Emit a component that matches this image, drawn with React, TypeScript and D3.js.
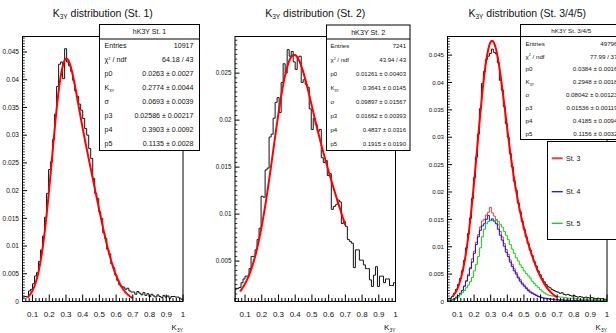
import React from "react";
import * as d3 from "d3";

const W = 616;
const H = 333;
const FONT = "'Liberation Sans', Arial, Helvetica, sans-serif";

// histogram binning: 80 bins from 0.04 to 1.00
const BIN_LOW = 0.04;
const BIN_WIDTH = 0.012;
const X_DOMAIN = [0.04, 1.0];
const FIT_RANGE = [0.07, 0.7];

const xTickValues = [0.1, 0.2, 0.3, 0.4, 0.5, 0.6, 0.7, 0.8, 0.9, 1];
const xTickLabels = ["0.1", "0.2", "0.3", "0.4", "0.5", "0.6", "0.7", "0.8", "0.9", "1"];

const st1Values = [
  0.0008, 0.0009, 0.0008, 0.0019, 0.0022, 0.0032, 0.0046, 0.0052, 0.0072, 0.0093,
  0.0118, 0.0152, 0.0195, 0.0238, 0.0252, 0.0292, 0.0338, 0.0388, 0.0428, 0.0432,
  0.0402, 0.0456, 0.0432, 0.0425, 0.0415, 0.0399, 0.0380, 0.0370, 0.0356, 0.0345,
  0.0330, 0.0312, 0.0300, 0.0276, 0.0258, 0.0222, 0.0195, 0.0186, 0.0162, 0.0150,
  0.0124, 0.0114, 0.0094, 0.0086, 0.0068, 0.0061, 0.0048, 0.0038, 0.0030, 0.0027,
  0.0026, 0.0022, 0.0024, 0.0019, 0.0017, 0.0017, 0.0013, 0.0018, 0.0015, 0.0012,
  0.0016, 0.0011, 0.0014, 0.0009, 0.0013, 0.0010, 0.0008, 0.0012, 0.0009, 0.0007,
  0.0011, 0.0008, 0.0010, 0.0006, 0.0009, 0.0009, 0.0008, 0.0008, 0.0006, 0.0004,
];

const st2Values = [
  0.0021, 0.0021, 0.0022, 0.0027, 0.0031, 0.0034, 0.0034, 0.0042, 0.0055, 0.0055,
  0.0062, 0.0073, 0.0085, 0.0119, 0.0118, 0.0147, 0.0149, 0.0182, 0.0185, 0.0202,
  0.0219, 0.0224, 0.0208, 0.0240, 0.0260, 0.0250, 0.0275, 0.0268, 0.0273, 0.0262,
  0.0254, 0.0267, 0.0268, 0.0240, 0.0243, 0.0238, 0.0235, 0.0212, 0.0190, 0.0202,
  0.0195, 0.0188, 0.0190, 0.0160, 0.0155, 0.0157, 0.0141, 0.0143, 0.0105, 0.0108,
  0.0110, 0.0115, 0.0113, 0.0090, 0.0092, 0.0087, 0.0073, 0.0071, 0.0069, 0.0043,
  0.0062, 0.0062, 0.0051, 0.0051, 0.0046, 0.0042, 0.0042, 0.0030, 0.0023, 0.0035,
  0.0044, 0.0023, 0.0034, 0.0034, 0.0027, 0.0031, 0.0031, 0.0024, 0.0024, 0.0027,
];

const st345Values = [
  0.0005, 0.0006, 0.0009, 0.0015, 0.0022, 0.0031, 0.0042, 0.0056, 0.0075, 0.0098,
  0.0124, 0.0152, 0.0188, 0.0226, 0.0264, 0.0306, 0.0352, 0.0398, 0.0420, 0.0442,
  0.0448, 0.0453, 0.0461, 0.0455, 0.0452, 0.0436, 0.0404, 0.0386, 0.0356, 0.0325,
  0.0300, 0.0270, 0.0246, 0.0220, 0.0203, 0.0180, 0.0164, 0.0146, 0.0132, 0.0118,
  0.0106, 0.0094, 0.0084, 0.0073, 0.0065, 0.0056, 0.0049, 0.0042, 0.0036, 0.0031,
  0.0027, 0.0025, 0.0022, 0.0020, 0.0018, 0.0017, 0.0015, 0.0016, 0.0013, 0.0012,
  0.0013, 0.0011, 0.0010, 0.0011, 0.0009, 0.0008, 0.0009, 0.0008, 0.0007, 0.0008,
  0.0007, 0.0006, 0.0007, 0.0006, 0.0005, 0.0006, 0.0005, 0.0005, 0.0004, 0.0004,
];

const st3Values = [
  0.0002, 0.0002, 0.0003, 0.0005, 0.0007, 0.0010, 0.0014, 0.0020, 0.0028, 0.0038,
  0.0050, 0.0062, 0.0078, 0.0092, 0.0108, 0.0122, 0.0136, 0.0147, 0.0150, 0.0158,
  0.0163, 0.0172, 0.0162, 0.0156, 0.0150, 0.0140, 0.0128, 0.0118, 0.0106, 0.0095,
  0.0086, 0.0076, 0.0068, 0.0060, 0.0053, 0.0045, 0.0040, 0.0034, 0.0030, 0.0026,
  0.0022, 0.0019, 0.0016, 0.0014, 0.0012, 0.0010, 0.0009, 0.0007, 0.0006, 0.0006,
  0.0005, 0.0005, 0.0004, 0.0004, 0.0004, 0.0003, 0.0003, 0.0003, 0.0003, 0.0002,
  0.0003, 0.0002, 0.0002, 0.0002, 0.0002, 0.0002, 0.0001, 0.0002, 0.0001, 0.0001,
  0.0002, 0.0001, 0.0001, 0.0001, 0.0001, 0.0001, 0.0001, 0.0001, 0.0001, 0.0001,
];

const st4Values = [
  0.0002, 0.0002, 0.0003, 0.0005, 0.0008, 0.0011, 0.0015, 0.0020, 0.0028, 0.0037,
  0.0047, 0.0060, 0.0072, 0.0088, 0.0104, 0.0118, 0.0130, 0.0138, 0.0142, 0.0150,
  0.0157, 0.0148, 0.0151, 0.0147, 0.0142, 0.0132, 0.0121, 0.0112, 0.0101, 0.0090,
  0.0082, 0.0072, 0.0064, 0.0056, 0.0050, 0.0043, 0.0037, 0.0032, 0.0028, 0.0024,
  0.0020, 0.0017, 0.0015, 0.0013, 0.0011, 0.0009, 0.0008, 0.0007, 0.0006, 0.0005,
  0.0005, 0.0004, 0.0004, 0.0003, 0.0003, 0.0003, 0.0002, 0.0003, 0.0002, 0.0002,
  0.0002, 0.0002, 0.0001, 0.0002, 0.0001, 0.0001, 0.0002, 0.0001, 0.0001, 0.0001,
  0.0001, 0.0001, 0.0001, 0.0001, 0.0001, 0.0001, 0.0001, 0.0001, 0.0001, 0.0001,
];

const st5Values = [
  0.0001, 0.0002, 0.0003, 0.0004, 0.0006, 0.0008, 0.0012, 0.0016, 0.0020, 0.0025,
  0.0030, 0.0036, 0.0044, 0.0056, 0.0068, 0.0082, 0.0098, 0.0118, 0.0132, 0.0142,
  0.0146, 0.0148, 0.0148, 0.0146, 0.0149, 0.0146, 0.0141, 0.0136, 0.0128, 0.0121,
  0.0113, 0.0104, 0.0096, 0.0088, 0.0080, 0.0074, 0.0067, 0.0062, 0.0056, 0.0051,
  0.0047, 0.0043, 0.0037, 0.0033, 0.0029, 0.0026, 0.0022, 0.0019, 0.0016, 0.0014,
  0.0012, 0.0011, 0.0010, 0.0010, 0.0009, 0.0009, 0.0008, 0.0008, 0.0007, 0.0007,
  0.0006, 0.0006, 0.0006, 0.0005, 0.0005, 0.0005, 0.0004, 0.0004, 0.0004, 0.0004,
  0.0003, 0.0003, 0.0003, 0.0003, 0.0003, 0.0003, 0.0002, 0.0002, 0.0002, 0.0002,
];

// fit parameters: p0, K3Y, sigma, p3, p4, p5
const fit1Params = [0.0263, 0.2774, 0.0693, 0.02586, 0.3903, 0.1135];
const fit2Params = [0.01261, 0.3641, 0.09897, 0.01662, 0.4837, 0.1915];
const fit3Params = [0.0384, 0.2948, 0.08042, 0.01536, 0.4185, 0.1156];

const statLabels = ["Entries", "chi2", "p0", "K3Y", "sigma", "p3", "p4", "p5"];
const stats1Values = ["10917", "64.18 / 43", "0.0263 ± 0.0027", "0.2774 ± 0.0044", "0.0693 ± 0.0039", "0.02586 ± 0.00217", "0.3903 ± 0.0092", "0.1135 ± 0.0028"];
const stats2Values = ["7241", "43.94 / 43", "0.01261 ± 0.00403", "0.3641 ± 0.0145", "0.09897 ± 0.01567", "0.01662 ± 0.00393", "0.4837 ± 0.0316", "0.1915 ± 0.0190"];
const stats3Values = ["49796", "77.99 / 37", "0.0384 ± 0.0016", "0.2948 ± 0.0018", "0.08042 ± 0.00123", "0.01536 ± 0.00119", "0.4185 ± 0.0094", "0.1156 ± 0.0032"];

const y1Ticks = [0, 0.005, 0.01, 0.015, 0.02, 0.025, 0.03, 0.035, 0.04, 0.045];
const y2Ticks = [0.005, 0.01, 0.015, 0.02, 0.025];
const y3Ticks = [0, 0.005, 0.01, 0.015, 0.02, 0.025, 0.03, 0.035, 0.04, 0.045];

const legendLabels = ["St. 3", "St. 4", "St. 5"];
const COL_ST3 = "#f03c3c";
const COL_ST4 = "#1010f0";
const COL_ST5 = "#10cc10";

const TOP = 36.5;
const BOTTOM = 301.5;

function fitFn(p: number[]) {
  return (x: number) =>
    p[0] * Math.exp(-0.5 * ((x - p[1]) / p[2]) ** 2) +
    p[3] * Math.exp(-0.5 * ((x - p[4]) / p[5]) ** 2);
}

function fmtY(v: number) {
  if (Math.abs(v) < 1e-12) return "0";
  return String(+v.toFixed(4));
}

type Hist = { values: number[]; color: string; width: number };

type StatsCfg = {
  title: string;
  values: string[];
  x0: number; x1: number; y0: number; y1: number;
  headY: number; divY: number; rowY: number; rowStep: number;
  font: number; headFont: number; padL: number; padR: number;
};

type PanelCfg = {
  id: string;
  x0: number; x1: number;
  yDomain: [number, number];
  yTicks: number[];
  yLabelFont: number;
  titleText: string;
  hists: Hist[];
  fit: number[];
  stats: StatsCfg;
};

function Sub({ base, sub, size }: { base: string; sub: string; size: number }) {
  return (
    <>
      <tspan>{base}</tspan>
      <tspan fontSize={size * 0.62} dy={size * 0.3}>{sub}</tspan>
      <tspan dy={-size * 0.3}>{""}</tspan>
    </>
  );
}

function StatLabel({ key2, size }: { key2: string; size: number }) {
  if (key2 === "chi2")
    return (
      <>
        <tspan>χ</tspan>
        <tspan fontSize={size * 0.6} dy={-size * 0.35}>2</tspan>
        <tspan dy={size * 0.35}> / ndf</tspan>
      </>
    );
  if (key2 === "K3Y")
    return (
      <>
        <tspan>K</tspan>
        <tspan fontSize={size * 0.6} dy={size * 0.3}>3Y</tspan>
      </>
    );
  if (key2 === "sigma") return <tspan>σ</tspan>;
  return <tspan>{key2}</tspan>;
}

function Stats({ s }: { s: StatsCfg }) {
  return (
    <g fontFamily={FONT}>
      <rect x={s.x0} y={s.y0} width={s.x1 - s.x0} height={s.y1 - s.y0} fill="white" stroke="black" strokeWidth={1} />
      <text x={(s.x0 + s.x1) / 2} y={s.headY} dy="0.35em" textAnchor="middle" fontSize={s.headFont} fill="#111">
        {s.title}
      </text>
      <line x1={s.x0} x2={s.x1} y1={s.divY} y2={s.divY} stroke="black" strokeWidth={1} />
      {statLabels.map((lab, i) => (
        <g key={lab}>
          <text x={s.x0 + s.padL} y={s.rowY + i * s.rowStep} dy="0.35em" fontSize={s.font} fill="#111">
            <StatLabel key2={lab} size={s.font} />
          </text>
          <text x={s.x1 - s.padR} y={s.rowY + i * s.rowStep} dy="0.35em" fontSize={s.font} textAnchor="end" fill="#111">
            {s.values[i]}
          </text>
        </g>
      ))}
    </g>
  );
}

function Panel({ c }: { c: PanelCfg }) {
  const x = d3.scaleLinear().domain(X_DOMAIN).range([c.x0, c.x1]);
  const y = d3.scaleLinear().domain(c.yDomain).range([BOTTOM, TOP]);
  const edges = d3.range(81).map((i) => BIN_LOW + i * BIN_WIDTH);

  const histPath = (vals: number[]) => {
    const pts: [number, number][] = [[edges[0], c.yDomain[0]]];
    vals.forEach((v, i) => {
      pts.push([edges[i], v]);
      pts.push([edges[i + 1], v]);
    });
    pts.push([edges[vals.length], c.yDomain[0]]);
    return d3.line<[number, number]>().x((d) => x(d[0])).y((d) => y(d[1]))(pts) || "";
  };

  const f = fitFn(c.fit);
  const fitXs = d3.range(0, 201).map((i) => FIT_RANGE[0] + ((FIT_RANGE[1] - FIT_RANGE[0]) * i) / 200);
  const fitPath = d3.line<number>().x((d) => x(d)).y((d) => y(f(d))).curve(d3.curveLinear)(fitXs) || "";

  const xMinor = d3.range(0.04, 1.0001, 0.02).filter((v) => !xTickValues.some((t) => Math.abs(t - v) < 1e-6));
  const yMinorStep = 0.0005;
  const yMinor = d3
    .range(Math.ceil(c.yDomain[0] / yMinorStep) * yMinorStep, c.yDomain[1], yMinorStep)
    .filter((v) => !c.yTicks.some((t) => Math.abs(t - v) < 1e-7));

  const clipId = "clip-" + c.id;
  const cx = (c.x0 + c.x1) / 2;
  const tSize = 10.5;

  return (
    <g>
      <defs>
        <clipPath id={clipId}>
          <rect x={c.x0} y={TOP} width={c.x1 - c.x0} height={BOTTOM - TOP} />
        </clipPath>
      </defs>
      {/* title */}
      <text x={cx} y={16.5} textAnchor="middle" fontFamily={FONT} fontSize={tSize} fill="#111">
        <tspan>K</tspan>
        <tspan fontSize={tSize * 0.62} dy={2.6}>3Y</tspan>
        <tspan dy={-2.6}>{" distribution (" + c.titleText + ")"}</tspan>
      </text>

      {/* histograms */}
      <g clipPath={`url(#${clipId})`}>
        {c.hists.map((h, i) => (
          <path key={i} d={histPath(h.values)} fill="none" stroke={h.color} strokeWidth={h.width} />
        ))}
        <path d={fitPath} fill="none" stroke="#ff0000" strokeWidth={2} />
      </g>

      {/* frame */}
      <rect x={c.x0} y={TOP} width={c.x1 - c.x0} height={BOTTOM - TOP} fill="none" stroke="black" strokeWidth={1} />

      {/* x ticks */}
      {xTickValues.map((t) => (
        <line key={"xm" + t} x1={x(t)} x2={x(t)} y1={BOTTOM} y2={BOTTOM - 7} stroke="black" strokeWidth={1} />
      ))}
      {xMinor.map((t) => (
        <line key={"xn" + t} x1={x(t)} x2={x(t)} y1={BOTTOM} y2={BOTTOM - 3.5} stroke="black" strokeWidth={1} />
      ))}
      {xTickValues.map((t, i) => (
        <text key={"xl" + t} x={x(t)} y={316.5} textAnchor="middle" fontFamily={FONT} fontSize={8} fill="#111">
          {xTickLabels[i]}
        </text>
      ))}
      <text x={c.x1} y={330} textAnchor="end" fontFamily={FONT} fontSize={8} fill="#111">
        <tspan>K</tspan>
        <tspan fontSize={5} dy={1.8}>3Y</tspan>
      </text>

      {/* y ticks */}
      {c.yTicks.map((t) => (
        <line key={"ym" + t} x1={c.x0} x2={c.x0 + 4.5} y1={y(t)} y2={y(t)} stroke="black" strokeWidth={1} />
      ))}
      {yMinor.map((t) => (
        <line key={"yn" + t} x1={c.x0} x2={c.x0 + 2.3} y1={y(t)} y2={y(t)} stroke="black" strokeWidth={0.8} />
      ))}
      {c.yTicks.map((t) => (
        <text key={"yl" + t} x={c.x0 - 3.5} y={y(t)} dy="0.35em" textAnchor="end" fontFamily={FONT} fontSize={c.yLabelFont} fill="#111">
          {fmtY(t)}
        </text>
      ))}

      <Stats s={c.stats} />
    </g>
  );
}

const panels: PanelCfg[] = [
  {
    id: "p1",
    x0: 22.5,
    x1: 183,
    yDomain: [0, 0.0478],
    yTicks: y1Ticks,
    yLabelFont: 6.6,
    titleText: "St. 1",
    hists: [{ values: st1Values, color: "#111", width: 1 }],
    fit: fit1Params,
    stats: {
      title: "hK3Y St. 1", values: stats1Values,
      x0: 99.5, x1: 199.5, y0: 24.5, y1: 150.5,
      headY: 32, divY: 39, rowY: 45.7, rowStep: 14,
      font: 7.1, headFont: 7, padL: 5, padR: 6,
    },
  },
  {
    id: "p2",
    x0: 235,
    x1: 395.5,
    yDomain: [0.0007, 0.0289],
    yTicks: y2Ticks,
    yLabelFont: 6.3,
    titleText: "St. 2",
    hists: [{ values: st2Values, color: "#111", width: 1 }],
    fit: fit2Params,
    stats: {
      title: "hK3Y St. 2", values: stats2Values,
      x0: 326.5, x1: 410, y0: 25, y1: 150.5,
      headY: 32.5, divY: 39, rowY: 45.7, rowStep: 14,
      font: 6, headFont: 7.2, padL: 4, padR: 4,
    },
  },
  {
    id: "p3",
    x0: 447.5,
    x1: 607,
    yDomain: [0, 0.0484],
    yTicks: y3Ticks,
    yLabelFont: 6.1,
    titleText: "St. 3/4/5",
    hists: [
      { values: st3Values, color: COL_ST3, width: 1 },
      { values: st4Values, color: COL_ST4, width: 1 },
      { values: st5Values, color: COL_ST5, width: 1 },
      { values: st345Values, color: "#111", width: 1 },
    ],
    fit: fit3Params,
    stats: {
      title: "hK3Y St. 3/4/5", values: stats3Values,
      x0: 520.5, x1: 622, y0: 24.5, y1: 139.5,
      headY: 30.7, divY: 36.5, rowY: 43.5, rowStep: 12.85,
      font: 6.2, headFont: 6.2, padL: 5, padR: 4.5,
    },
  },
];

const legendColors = [COL_ST3, COL_ST4, COL_ST5];
const legendYs = [158.3, 191.7, 223.3];

export default function App() {
  return (
    <svg
      width={W}
      height={H}
      viewBox={`0 0 ${W} ${H}`}
      style={{ position: "absolute", left: 0, top: 0, background: "white" }}
    >
      <rect x={0} y={0} width={W} height={H} fill="white" />
      {panels.map((p) => (
        <Panel key={p.id} c={p} />
      ))}
      {/* legend */}
      <g fontFamily={FONT}>
        <rect x={547.5} y={141.5} width={80} height={98} fill="white" stroke="black" strokeWidth={1} />
        {legendLabels.map((l, i) => (
          <g key={l}>
            <line x1={551.7} x2={562.7} y1={legendYs[i]} y2={legendYs[i]} stroke={legendColors[i]} strokeWidth={i === 0 ? 2 : 1.3} />
            <text x={566} y={legendYs[i]} dy="0.35em" fontSize={7} fill="#111">
              {l}
            </text>
          </g>
        ))}
      </g>
    </svg>
  );
}
